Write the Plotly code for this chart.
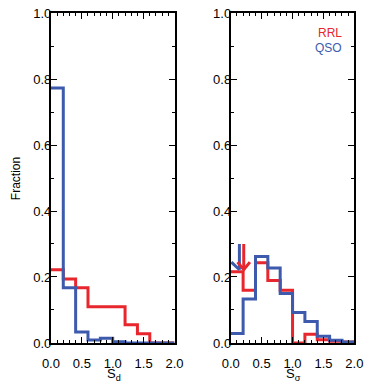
import plotly.graph_objects as go

bin_edges = [0.0, 0.2, 0.4, 0.6, 0.8, 1.0, 1.2, 1.4, 1.6, 1.8, 2.0]

# Left panel (S_d)
sd_rrl = [0.222, 0.194, 0.167, 0.110, 0.110, 0.110, 0.055, 0.028, 0.0, 0.0]
sd_qso = [0.773, 0.167, 0.033, 0.009, 0.014, 0.004, 0.0, 0.0, 0.0, 0.0]

# Right panel (S_sigma)
ss_rrl = [0.216, 0.160, 0.243, 0.189, 0.160, 0.0, 0.026, 0.010, 0.005, 0.003]
ss_qso = [0.029, 0.133, 0.262, 0.227, 0.150, 0.092, 0.065, 0.020, 0.008, 0.003]

# Arrows (median markers) in right panel: x position, top, tip
arrow_qso = {"x": 0.14, "top": 0.30, "tip": 0.222, "wing": 0.245}
arrow_rrl = {"x": 0.21, "top": 0.30, "tip": 0.222, "wing": 0.245}

RED = "#e8262d"
BLUE = "#3d5aad"
FONT = "Liberation Sans"

fig = go.Figure()


def step(vals):
    return bin_edges, list(vals) + [vals[-1]]


for vals, col, xa, ya in [
    (sd_rrl, RED, "x", "y"),
    (sd_qso, BLUE, "x", "y"),
    (ss_rrl, RED, "x2", "y2"),
    (ss_qso, BLUE, "x2", "y2"),
]:
    xs, ys = step(vals)
    fig.add_trace(go.Scatter(x=xs, y=ys, mode="lines", line=dict(color=col, width=3, shape="hv"),
                             xaxis=xa, yaxis=ya, showlegend=False, hoverinfo="skip"))

for a, col, wl, wr in [(arrow_qso, BLUE, 0.13, 0.0), (arrow_rrl, RED, 0.10, 0.10)]:
    fig.add_trace(go.Scatter(x=[a["x"], a["x"]], y=[a["top"], a["tip"]], mode="lines",
                             line=dict(color=col, width=3), xaxis="x2", yaxis="y2",
                             showlegend=False, hoverinfo="skip"))
    xs = [a["x"] - wl, a["x"]]
    ys = [a["wing"], a["tip"]]
    if wr > 0:
        xs += [a["x"] + wr]
        ys += [a["wing"]]
    fig.add_trace(go.Scatter(x=xs, y=ys, mode="lines", line=dict(color=col, width=3),
                             xaxis="x2", yaxis="y2", showlegend=False, hoverinfo="skip"))

common_x = dict(range=[-0.001, 2.001], tickmode="array", tickvals=[0, 0.5, 1.0, 1.5, 2.0],
                ticktext=["0.0", "0.5", "1.0", "1.5", "2.0"], ticks="inside", ticklen=6,
                tickwidth=1.2, tickcolor="black", showline=True, linecolor="black", linewidth=1.8,
                mirror="allticks", showgrid=False, zeroline=False, ticklabelstandoff=7,
                ticklabeloverflow="allow",
                minor=dict(dtick=0.1, ticks="inside", ticklen=3, tickwidth=1, tickcolor="black"),
                tickfont=dict(family=FONT, size=13, color="black"))
common_y = dict(range=[-0.001, 1.001], tickmode="array", tickvals=[0, 0.2, 0.4, 0.6, 0.8, 1.0],
                ticktext=["0.0", "0.2", "0.4", "0.6", "0.8", "1.0"], ticks="inside", ticklen=6,
                tickwidth=1.2, tickcolor="black", showline=True, linecolor="black", linewidth=1.8,
                mirror="allticks", showgrid=False, zeroline=False, ticklabelstandoff=-5,
                ticklabeloverflow="allow",
                minor=dict(dtick=0.1, ticks="inside", ticklen=3, tickwidth=1, tickcolor="black"),
                tickfont=dict(family=FONT, size=13, color="black"))

ydom = [1 - 349 / 384, 1 - 6 / 384]
fig.update_layout(
    width=371, height=384, margin=dict(l=0, r=0, t=0, b=0),
    paper_bgcolor="white", plot_bgcolor="white",
    xaxis=dict(common_x, domain=[44 / 371, 174 / 371], anchor="y"),
    yaxis=dict(common_y, domain=ydom, anchor="x"),
    xaxis2=dict(common_x, domain=[233 / 371, 363 / 371], anchor="y2"),
    yaxis2=dict(common_y, domain=ydom, anchor="x2"),
    annotations=[
        dict(text="RRL", x=352 / 371, y=1 - 27 / 384, xref="paper", yref="paper", xanchor="right",
             yanchor="middle", showarrow=False, font=dict(family=FONT, size=12, color=RED)),
        dict(text="QSO", x=352 / 371, y=1 - 43 / 384, xref="paper", yref="paper", xanchor="right",
             yanchor="middle", showarrow=False, font=dict(family=FONT, size=12, color=BLUE)),
        dict(text="S<sub>d</sub>", x=110 / 371, y=1 - 371 / 384, xref="paper", yref="paper",
             xanchor="center", yanchor="top", showarrow=False,
             font=dict(family=FONT, size=13, color="black")),
        dict(text="S<sub>σ</sub>", x=299 / 371, y=1 - 371 / 384, xref="paper", yref="paper",
             xanchor="center", yanchor="top", showarrow=False,
             font=dict(family=FONT, size=13, color="black")),
        dict(text="Fraction", x=7 / 371, y=1 - 178 / 384, xref="paper", yref="paper",
             xanchor="center", yanchor="middle", showarrow=False, textangle=-90,
             font=dict(family=FONT, size=12, color="black")),
    ],
)

fig.write_html("out.html")
